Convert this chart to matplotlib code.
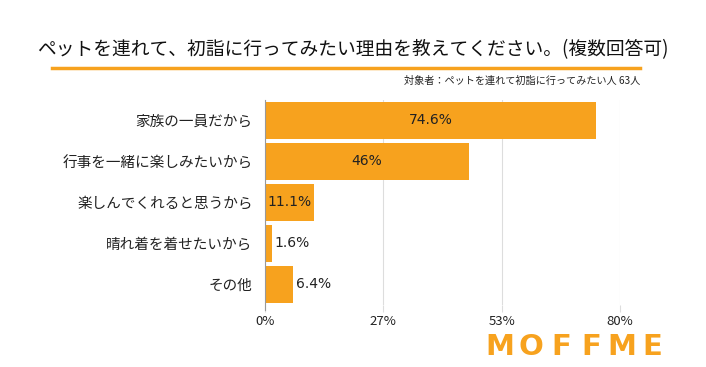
import matplotlib.pyplot as plt

plt.rcParams['font.family'] = ['Noto Sans CJK JP', 'DejaVu Sans']

categories = ['家族の一員だから', '行事を一緒に楽しみたいから', '楽しんでくれると思うから',
              '晴れ着を着せたいから', 'その他']
values = [74.6, 46, 11.1, 1.6, 6.4]
value_labels = ['74.6%', '46%', '11.1%', '1.6%', '6.4%']
tick_values = [0, 80 / 3, 160 / 3, 80]
tick_labels = ['0%', '27%', '53%', '80%']

orange = '#F7A21E'

fig = plt.figure(figsize=(7.06, 3.67), dpi=100)
ax = fig.add_axes([265 / 706, 1 - 305 / 367, (620 - 265) / 706, 205 / 367])

ypos = list(range(len(categories)))
ax.barh(ypos, values, height=0.88, color=orange)
ax.set_ylim(len(categories) - 0.5, -0.5)
ax.set_xlim(0, 80)

ax.set_yticks(ypos)
ax.set_yticklabels(categories, fontsize=10.5, color='#222222')
ax.set_xticks(tick_values)
ax.set_xticklabels(tick_labels, fontsize=9.5, color='#222222')
ax.tick_params(axis='y', length=0, pad=9)
ax.tick_params(axis='x', length=5, color='#dddddd', pad=2)
ax.xaxis.grid(True, color='#dddddd', linewidth=0.8)
ax.set_axisbelow(True)
for s in ['top', 'right', 'bottom']:
    ax.spines[s].set_visible(False)
ax.spines['left'].set_color('#999999')
ax.spines['left'].set_bounds(-0.5, len(categories) - 0.5 + 0.12)

for i, (v, lab) in enumerate(zip(values, value_labels)):
    if v > 10:
        ax.text(v / 2, i, lab, ha='center', va='center', fontsize=10, color='#222222',
                family='DejaVu Sans')
    else:
        ax.text(v + 0.5, i, lab, ha='left', va='center', fontsize=10, color='#222222',
                family='DejaVu Sans')

fig.text(0.5, 1 - 50 / 367, 'ペットを連れて、初詣に行ってみたい理由を教えてください。(複数回答可)',
         ha='center', va='center', fontsize=13.5, color='#111111')
fig.add_artist(plt.Line2D([52 / 706, 640 / 706], [1 - 68 / 367, 1 - 68 / 367],
                          color=orange, linewidth=2.5))
fig.text(640 / 706, 1 - 81 / 367, '対象者：ペットを連れて初詣に行ってみたい人 63人',
         ha='right', va='center', fontsize=7.3, color='#222222')

# logo
for k, ch in enumerate('MOFFME'):
    fig.text((500 + k * 30.5) / 706, 1 - 347 / 367, ch, ha='center', va='center',
             fontsize=21, fontweight='bold', color=orange, family='DejaVu Sans')

fig.savefig('out.png', dpi=100)
